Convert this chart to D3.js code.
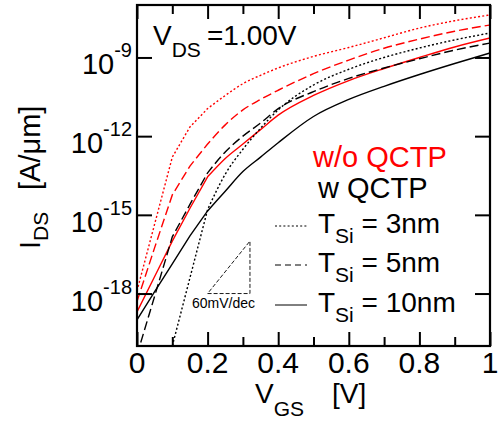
<!DOCTYPE html>
<html><head><meta charset="utf-8">
<script src="https://cdn.jsdelivr.net/npm/d3@7"></script>
<style>
body{margin:0;background:#fff}
svg{display:block}
text{font-family:"Liberation Sans",Arial,Helvetica,sans-serif}
</style>
</head><body>
<script>
// ---- data (log10 of I_DS in A/um) ----
const vgs = [0, 0.05, 0.1, 0.15, 0.2, 0.25, 0.3, 0.35, 0.4, 0.5, 0.6, 0.7, 0.8, 0.9, 1.0];
const logI_woQCTP_3nm  = [-17.9, -15.35, -12.8, -11.65, -10.95, -10.45, -10.0, -9.68, -9.4, -8.96, -8.62, -8.25, -7.88, -7.6, -7.38];
const logI_woQCTP_5nm  = [-18.3, -16.25, -14.24, -13.14, -12.3, -11.57, -11.0, -10.6, -10.25, -9.62, -9.1, -8.65, -8.3, -8.0, -7.76];
const logI_woQCTP_10nm = [-18.7, -17.35, -16.0, -14.75, -13.55, -12.85, -12.3, -11.75, -11.2, -10.45, -9.88, -9.42, -9.0, -8.6, -8.26];
const logI_wQCTP_3nm   = [null, null, -20.0, -17.4, -14.8, -13.45, -12.5, -11.7, -11.0, -10.05, -9.45, -9.0, -8.64, -8.33, -8.07];
const logI_wQCTP_5nm   = [-20.34, -18.1, -15.84, -14.6, -13.4, -12.6, -12.0, -11.5, -10.95, -10.3, -9.8, -9.4, -9.05, -8.72, -8.45];
const logI_wQCTP_10nm  = [-19.0, -17.93, -16.87, -15.8, -14.85, -14.1, -13.35, -12.8, -12.25, -11.25, -10.6, -10.1, -9.65, -9.23, -8.83];

const xMajorTicks = [0, 0.2, 0.4, 0.6, 0.8, 1];
const xTickLabels = ["0", "0.2", "0.4", "0.6", "0.8", "1"];
const xMinorTicks = [0.1, 0.3, 0.5, 0.7, 0.9];
const yTickExponents = [-18, -15, -12, -9];
const slopeTriangle = {v0: 0.2, v1: 0.32, e0: -18, e1: -16}; // 60 mV/dec guide

const series = [
  {vals: logI_woQCTP_3nm,  color: "#ff0000", dash: "2,2.2"},
  {vals: logI_woQCTP_5nm,  color: "#ff0000", dash: "9,4"},
  {vals: logI_woQCTP_10nm, color: "#ff0000", dash: null},
  {vals: logI_wQCTP_3nm,   color: "#000000", dash: "2,2.2"},
  {vals: logI_wQCTP_5nm,   color: "#000000", dash: "9,4"},
  {vals: logI_wQCTP_10nm,  color: "#000000", dash: null}
];
const legendItems = [
  {label: "3nm", dash: "2,2.2"},
  {label: "5nm", dash: "6,4"},
  {label: "10nm", dash: null}
];

// ---- layout ----
const W = 499, H = 423;
const L = 137, R = 490, T = 5, B = 346;
const FONT = 28, SUB = 21;

const svg = d3.select("body").append("svg").attr("width", W).attr("height", H);

const x = d3.scaleLinear().domain([0, 1]).range([L, R]);
const y = d3.scaleLog().domain([1e-20, 1e-7]).range([B, T]);

svg.append("defs").append("clipPath").attr("id", "clip")
  .append("rect").attr("x", L).attr("y", T).attr("width", R - L).attr("height", B - T);

// curves: straight segments in the subthreshold part, smooth above 0.2 V
const lowLine = d3.line()
  .defined(d => d[1] !== null)
  .x(d => x(d[0]))
  .y(d => y(Math.pow(10, d[1])));
const highLine = d3.line()
  .curve(d3.curveMonotoneX)
  .x(d => x(d[0]))
  .y(d => y(Math.pow(10, d[1])));

const g = svg.append("g").attr("clip-path", "url(#clip)");
series.forEach(s => {
  const pts = vgs.map((v, i) => [v, s.vals[i]]);
  const low = pts.filter(p => p[0] <= 0.2 + 1e-9);
  const high = pts.filter(p => p[0] >= 0.2 - 1e-9);
  const dHigh = highLine(high).replace(/^M[^A-Za-z]*/, m => "L" + m.slice(1));
  g.append("path")
    .attr("d", lowLine(low) + dHigh)
    .attr("fill", "none")
    .attr("stroke", s.color)
    .attr("stroke-width", 1.4)
    .attr("stroke-dasharray", s.dash);
});

// axes (ticks inward)
function styleAxis(sel) {
  sel.select(".domain").remove();
  sel.selectAll(".tick line").attr("stroke", "#000").attr("stroke-width", 2);
  sel.selectAll(".tick text").remove();
}
svg.append("g").attr("transform", `translate(0,${B})`)
  .call(d3.axisBottom(x).tickValues(xMajorTicks).tickSize(-14)).call(styleAxis);
svg.append("g").attr("transform", `translate(0,${B})`)
  .call(d3.axisBottom(x).tickValues(xMinorTicks).tickSize(-9)).call(styleAxis);
svg.append("g").attr("transform", `translate(0,${T})`)
  .call(d3.axisTop(x).tickValues(xMajorTicks).tickSize(-14)).call(styleAxis);
svg.append("g").attr("transform", `translate(0,${T})`)
  .call(d3.axisTop(x).tickValues(xMinorTicks).tickSize(-9)).call(styleAxis);
const yTickVals = yTickExponents.map(e => Math.pow(10, e));
svg.append("g").attr("transform", `translate(${L},0)`)
  .call(d3.axisLeft(y).tickValues(yTickVals).tickSize(-15)).call(styleAxis);
svg.append("g").attr("transform", `translate(${R},0)`)
  .call(d3.axisRight(y).tickValues(yTickVals).tickSize(-15)).call(styleAxis);

// frame
svg.append("rect").attr("x", L).attr("y", T).attr("width", R - L).attr("height", B - T)
  .attr("fill", "none").attr("stroke", "#000").attr("stroke-width", 2.2);

// x tick labels
xMajorTicks.forEach((v, i) => {
  svg.append("text").attr("x", x(v)).attr("y", B + 27)
    .attr("text-anchor", "middle").attr("font-size", 30).text(xTickLabels[i]);
});
// y tick labels 10^e
yTickExponents.forEach(e => {
  const yy = y(Math.pow(10, e));
  const t = svg.append("text").attr("x", L - 5).attr("y", yy + 17)
    .attr("text-anchor", "end").attr("font-size", 29);
  t.append("tspan").text("10");
  t.append("tspan").attr("dy", -17).attr("font-size", 20).text(String(e));
});

// axis titles
const xt = svg.append("text").attr("x", 255).attr("y", 403).attr("font-size", FONT);
xt.append("tspan").text("V");
xt.append("tspan").attr("dy", 13).attr("font-size", SUB).text("GS");
xt.append("tspan").attr("x", 332).attr("dy", -13).text("[V]");

const yt = svg.append("text").attr("transform", "translate(40,249) rotate(-90)").attr("font-size", FONT + 1);
yt.append("tspan").text("I");
yt.append("tspan").attr("dy", 8).attr("font-size", SUB).text("DS");
yt.append("tspan").attr("x", 59).attr("dy", -8).text("[A/μm]");

// V_DS annotation
const vt = svg.append("text").attr("x", 153).attr("y", 45).attr("font-size", FONT);
vt.append("tspan").text("V");
vt.append("tspan").attr("dy", 12).attr("font-size", SUB).text("DS");
vt.append("tspan").attr("x", 207).attr("dy", -12).text("=1.00V");

// legend
svg.append("text").attr("x", 313).attr("y", 167).attr("font-size", FONT + 1)
  .attr("fill", "#ff0000").text("w/o QCTP");
svg.append("text").attr("x", 318).attr("y", 198).attr("font-size", FONT + 1)
  .attr("fill", "#000").text("w QCTP");
const legBase = [233, 272, 312];
legendItems.forEach((it, i) => {
  const by = legBase[i];
  svg.append("line").attr("x1", 275).attr("x2", 307).attr("y1", by - 7).attr("y2", by - 7)
    .attr("stroke", "#000").attr("stroke-width", 1).attr("stroke-dasharray", it.dash);
  const t = svg.append("text").attr("x", 318).attr("y", by).attr("font-size", FONT);
  t.append("tspan").text("T");
  t.append("tspan").attr("dy", 10).attr("font-size", SUB).text("Si");
  t.append("tspan").attr("dy", -10).text(" = " + it.label);
});

// 60 mV/dec slope triangle
const tri = [
  [slopeTriangle.v0, slopeTriangle.e0],
  [slopeTriangle.v1, slopeTriangle.e0],
  [slopeTriangle.v1, slopeTriangle.e1]
];
svg.append("path")
  .attr("d", d3.line().x(d => x(d[0])).y(d => y(Math.pow(10, d[1])))(tri) + "Z")
  .attr("fill", "none").attr("stroke", "#000").attr("stroke-width", 0.9)
  .attr("stroke-dasharray", "4,2");
svg.append("text").attr("x", 192).attr("y", 308).attr("font-size", 14).text("60mV/dec");
</script>
</body></html>
